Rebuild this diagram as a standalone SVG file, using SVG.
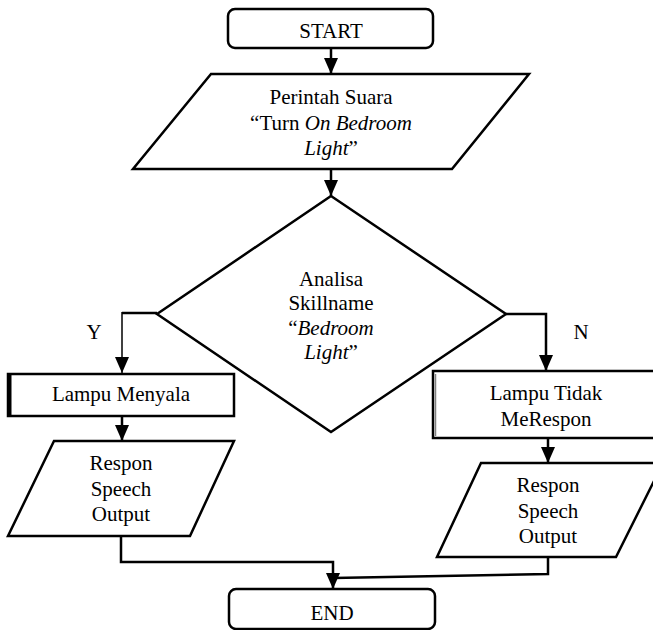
<svg xmlns="http://www.w3.org/2000/svg" width="653" height="630" viewBox="0 0 653 630">
  <style>
    .shape { fill: #ffffff; stroke: #000000; stroke-width: 2.5; stroke-linejoin: miter; }
    .conn { fill: none; stroke: #000000; stroke-width: 2.5; }
    .thin { fill: none; stroke: #000000; stroke-width: 1.5; }
    text { font-family: "Liberation Serif", "Times New Roman", serif; font-size: 21px; fill: #000000; text-anchor: middle; }
    .it { font-style: italic; }
  </style>
  <defs>
    <marker id="arrow" markerUnits="userSpaceOnUse" markerWidth="16" markerHeight="14" refX="16" refY="7" orient="auto">
      <path d="M0,0 L16,7 L0,14 z" fill="#000000"/>
    </marker>
  </defs>

  <g id="connectors">
    <line class="conn" x1="331" y1="48" x2="331" y2="74" marker-end="url(#arrow)"/>
    <line class="conn" x1="331" y1="169" x2="331" y2="196" marker-end="url(#arrow)"/>
    <polyline class="conn" points="157,313 122,313"/>
    <line class="thin" x1="122" y1="312" x2="122" y2="373" marker-end="url(#arrow)"/>
    <polyline class="conn" points="506,314 546,314 546,371" marker-end="url(#arrow)"/>
    <line class="conn" x1="122" y1="416" x2="122" y2="441" marker-end="url(#arrow)"/>
    <line class="conn" x1="548" y1="438" x2="548" y2="463" marker-end="url(#arrow)"/>
    <polyline class="conn" points="121,536 121,562 333,562 333,589" marker-end="url(#arrow)"/>
    <polyline class="conn" points="548,557 548,574 333,578"/>
  </g>

  <g id="start">
    <rect class="shape" x="228" y="9" width="205" height="39" rx="7" ry="7"/>
    <text x="331" y="38">START</text>
  </g>

  <g id="perintah">
    <polygon class="shape" points="211,74 529,74 452,169 133,169"/>
    <text x="331" y="104">Perintah Suara</text>
    <text x="331" y="130">“Turn <tspan class="it">On Bedroom</tspan></text>
    <text x="331" y="155"><tspan class="it">Light</tspan>”</text>
  </g>

  <g id="analisa">
    <polygon class="shape" points="331,196 506,314 331,432 157,314"/>
    <text x="331" y="286">Analisa</text>
    <text x="331" y="310">Skillname</text>
    <text x="331" y="335">“<tspan class="it">Bedroom</tspan></text>
    <text x="331" y="359"><tspan class="it">Light</tspan>”</text>
  </g>

  <g id="label-y">
    <text x="94" y="339">Y</text>
  </g>
  <g id="label-n">
    <text x="581" y="339">N</text>
  </g>

  <g id="lampu-menyala">
    <rect class="shape" x="8" y="374" width="226" height="42"/>
    <line x1="10" y1="374" x2="10" y2="416" stroke="#000000" stroke-width="3"/>
    <text x="121" y="401">Lampu Menyala</text>
  </g>

  <g id="lampu-tidak">
    <rect class="shape" x="433" y="371" width="230" height="67"/>
    <line x1="435.5" y1="374" x2="435.5" y2="436" stroke="#808080" stroke-width="1.5"/>
    <text x="546" y="400">Lampu Tidak</text>
    <text x="546" y="426">MeRespon</text>
  </g>

  <g id="respon-kiri">
    <polygon class="shape" points="54,441 234,441 190,536 8,536"/>
    <text x="121" y="470">Respon</text>
    <text x="121" y="496">Speech</text>
    <text x="121" y="521">Output</text>
  </g>

  <g id="respon-kanan">
    <polygon class="shape" points="481,463 663,463 616,557 437,557"/>
    <text x="548" y="492">Respon</text>
    <text x="548" y="518">Speech</text>
    <text x="548" y="543">Output</text>
  </g>

  <g id="end">
    <rect class="shape" x="229" y="589" width="206" height="40" rx="7" ry="7"/>
    <text x="332" y="620">END</text>
  </g>
</svg>
